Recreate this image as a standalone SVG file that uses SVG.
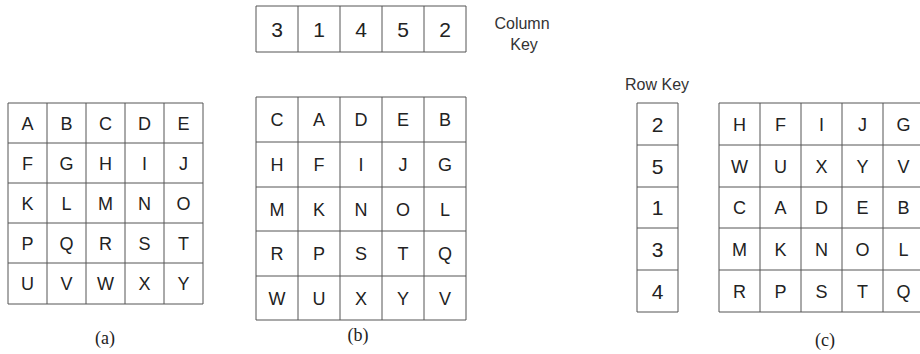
<svg xmlns="http://www.w3.org/2000/svg" width="920" height="354" viewBox="0 0 920 354">
<style>
.g{fill:none;stroke:#555;stroke-width:1}
.t{font-family:"Liberation Sans","Arial",sans-serif;font-size:18px;fill:#222;text-anchor:middle}
.d{font-family:"Liberation Sans","Arial",sans-serif;font-size:21px;fill:#222;text-anchor:middle}
.k{font-family:"Liberation Sans","Arial",sans-serif;font-size:16px;fill:#333}
.c{font-family:"Liberation Serif","Times New Roman",serif;font-size:18px;fill:#222;text-anchor:middle}
</style>
<rect width="920" height="354" fill="#fff"/>

<g id="grid-a">
<path class="g" d="M8 103H203V304H8Z M47 103V304 M86 103V304 M125 103V304 M164 103V304 M8 143H203 M8 183H203 M8 223H203 M8 263H203"/>
<g class="t">
<text x="27.5" y="129.5">A</text><text x="66.5" y="129.5">B</text><text x="105.5" y="129.5">C</text><text x="144.5" y="129.5">D</text><text x="183.5" y="129.5">E</text>
<text x="27.5" y="169.5">F</text><text x="66.5" y="169.5">G</text><text x="105.5" y="169.5">H</text><text x="144.5" y="169.5">I</text><text x="183.5" y="169.5">J</text>
<text x="27.5" y="209.5">K</text><text x="66.5" y="209.5">L</text><text x="105.5" y="209.5">M</text><text x="144.5" y="209.5">N</text><text x="183.5" y="209.5">O</text>
<text x="27.5" y="249.5">P</text><text x="66.5" y="249.5">Q</text><text x="105.5" y="249.5">R</text><text x="144.5" y="249.5">S</text><text x="183.5" y="249.5">T</text>
<text x="27.5" y="290">U</text><text x="66.5" y="290">V</text><text x="105.5" y="290">W</text><text x="144.5" y="290">X</text><text x="183.5" y="290">Y</text>
</g>
<text class="c" x="105" y="344">(a)</text>
</g>

<g id="column-key">
<path class="g" d="M256 6H466V52H256Z M298 6V52 M340 6V52 M382 6V52 M424 6V52"/>
<g class="d">
<text x="277" y="36.5">3</text><text x="319" y="36.5">1</text><text x="361" y="36.5">4</text><text x="403" y="36.5">5</text><text x="445" y="36.5">2</text>
</g>
<text class="k" x="522" y="29" text-anchor="middle">Column</text>
<text class="k" x="524" y="50" text-anchor="middle">Key</text>
</g>

<g id="grid-b">
<path class="g" d="M256 97H466V320H256Z M298 97V320 M340 97V320 M382 97V320 M424 97V320 M256 142H466 M256 187H466 M256 231H466 M256 276H466"/>
<g class="t">
<text x="277" y="126">C</text><text x="319" y="126">A</text><text x="361" y="126">D</text><text x="403" y="126">E</text><text x="445" y="126">B</text>
<text x="277" y="171">H</text><text x="319" y="171">F</text><text x="361" y="171">I</text><text x="403" y="171">J</text><text x="445" y="171">G</text>
<text x="277" y="215.5">M</text><text x="319" y="215.5">K</text><text x="361" y="215.5">N</text><text x="403" y="215.5">O</text><text x="445" y="215.5">L</text>
<text x="277" y="260">R</text><text x="319" y="260">P</text><text x="361" y="260">S</text><text x="403" y="260">T</text><text x="445" y="260">Q</text>
<text x="277" y="304.5">W</text><text x="319" y="304.5">U</text><text x="361" y="304.5">X</text><text x="403" y="304.5">Y</text><text x="445" y="304.5">V</text>
</g>
<text class="c" x="358" y="341">(b)</text>
</g>

<g id="row-key">
<text class="k" x="625" y="90">Row Key</text>
<path class="g" d="M637 103H678V312H637Z M637 145H678 M637 187H678 M637 228H678 M637 270H678"/>
<g class="d">
<text x="657.5" y="131.5">2</text><text x="657.5" y="173.5">5</text><text x="657.5" y="215">1</text><text x="657.5" y="256.5">3</text><text x="657.5" y="298.5">4</text>
</g>
</g>

<g id="grid-c">
<path class="g" d="M719 103H924V312H719Z M760 103V312 M801 103V312 M842 103V312 M883 103V312 M719 145H924 M719 187H924 M719 228H924 M719 270H924"/>
<g class="t">
<text x="739.5" y="130.5">H</text><text x="780.5" y="130.5">F</text><text x="821.5" y="130.5">I</text><text x="862.5" y="130.5">J</text><text x="903.5" y="130.5">G</text>
<text x="739.5" y="172.5">W</text><text x="780.5" y="172.5">U</text><text x="821.5" y="172.5">X</text><text x="862.5" y="172.5">Y</text><text x="903.5" y="172.5">V</text>
<text x="739.5" y="214">C</text><text x="780.5" y="214">A</text><text x="821.5" y="214">D</text><text x="862.5" y="214">E</text><text x="903.5" y="214">B</text>
<text x="739.5" y="255.5">M</text><text x="780.5" y="255.5">K</text><text x="821.5" y="255.5">N</text><text x="862.5" y="255.5">O</text><text x="903.5" y="255.5">L</text>
<text x="739.5" y="297.5">R</text><text x="780.5" y="297.5">P</text><text x="821.5" y="297.5">S</text><text x="862.5" y="297.5">T</text><text x="903.5" y="297.5">Q</text>
</g>
<text class="c" x="825" y="346">(c)</text>
</g>

<g id="connectors"></g>
</svg>
